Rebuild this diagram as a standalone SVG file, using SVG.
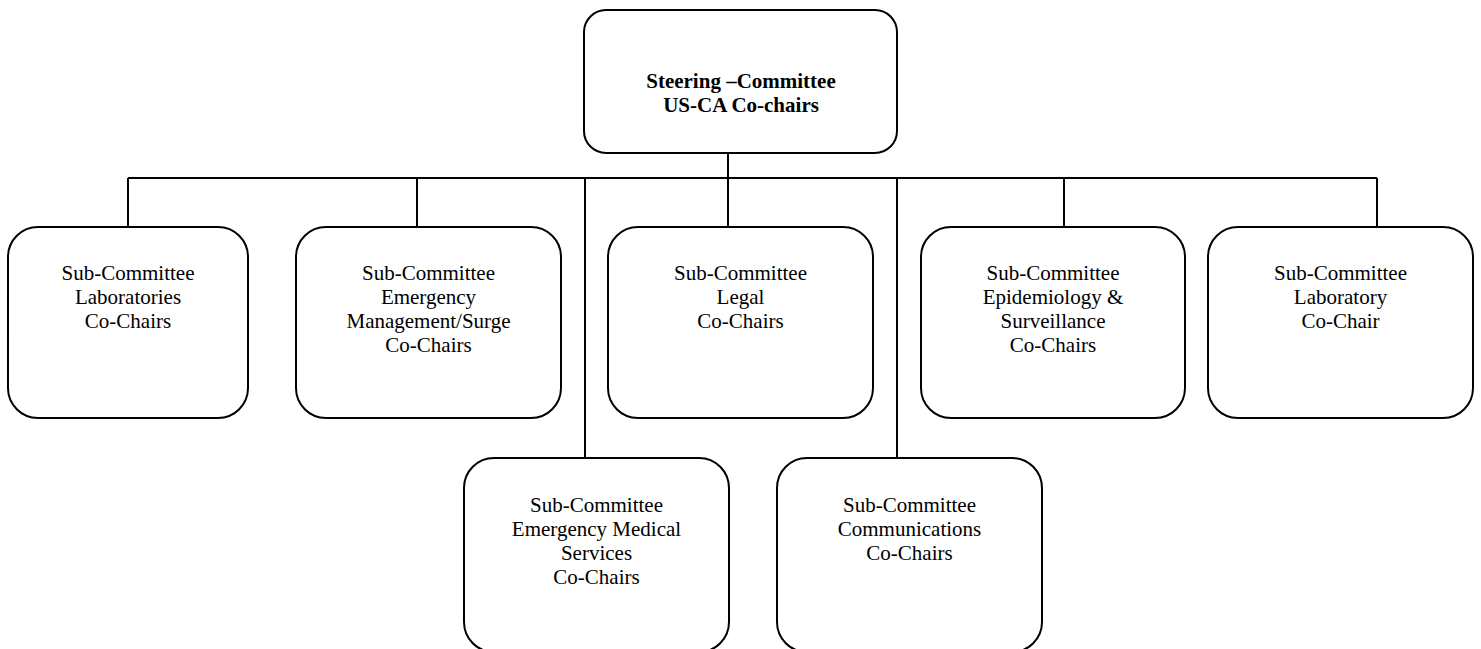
<svg xmlns="http://www.w3.org/2000/svg" width="1481" height="649" viewBox="0 0 1481 649">
<style>
.box{fill:#fff;stroke:#000;stroke-width:2}
.ln{stroke:#000;stroke-width:2;fill:none}
text{font-family:"Liberation Serif","Times New Roman",serif;font-size:21px;fill:#000;text-anchor:middle}
.b{font-weight:bold}
</style>
<rect width="1481" height="649" fill="#fff"/>
<g id="connectors">
<path class="ln" d="M128,178 H1377 M728,153 V227 M128,178 V227 M417,178 V227 M585,178 V458 M897,178 V458 M1064,178 V227 M1377,178 V227"/>
</g>
<g id="steering">
<rect class="box" x="584" y="10" width="313" height="143" rx="22"/>
<text class="b" x="741" y="88">Steering –Committee</text>
<text class="b" x="741" y="112">US-CA Co-chairs</text>
</g>
<g id="laboratories">
<rect class="box" x="8" y="227" width="240" height="191" rx="30"/>
<text x="128" y="280">Sub-Committee</text>
<text x="128" y="304">Laboratories</text>
<text x="128" y="328">Co-Chairs</text>
</g>
<g id="emergency-management">
<rect class="box" x="296" y="227" width="265" height="191" rx="30"/>
<text x="428.5" y="280">Sub-Committee</text>
<text x="428.5" y="304">Emergency</text>
<text x="428.5" y="328">Management/Surge</text>
<text x="428.5" y="352">Co-Chairs</text>
</g>
<g id="legal">
<rect class="box" x="608" y="227" width="265" height="191" rx="30"/>
<text x="740.5" y="280">Sub-Committee</text>
<text x="740.5" y="304">Legal</text>
<text x="740.5" y="328">Co-Chairs</text>
</g>
<g id="epidemiology">
<rect class="box" x="921" y="227" width="264" height="191" rx="30"/>
<text x="1053" y="280">Sub-Committee</text>
<text x="1053" y="304">Epidemiology &amp;</text>
<text x="1053" y="328">Surveillance</text>
<text x="1053" y="352">Co-Chairs</text>
</g>
<g id="laboratory">
<rect class="box" x="1208" y="227" width="265" height="191" rx="30"/>
<text x="1340.5" y="280">Sub-Committee</text>
<text x="1340.5" y="304">Laboratory</text>
<text x="1340.5" y="328">Co-Chair</text>
</g>
<g id="ems">
<rect class="box" x="464" y="458" width="265" height="194" rx="30"/>
<text x="596.5" y="512">Sub-Committee</text>
<text x="596.5" y="536">Emergency Medical</text>
<text x="596.5" y="560">Services</text>
<text x="596.5" y="584">Co-Chairs</text>
</g>
<g id="communications">
<rect class="box" x="777" y="458" width="265" height="194" rx="30"/>
<text x="909.5" y="512">Sub-Committee</text>
<text x="909.5" y="536">Communications</text>
<text x="909.5" y="560">Co-Chairs</text>
</g>
</svg>
